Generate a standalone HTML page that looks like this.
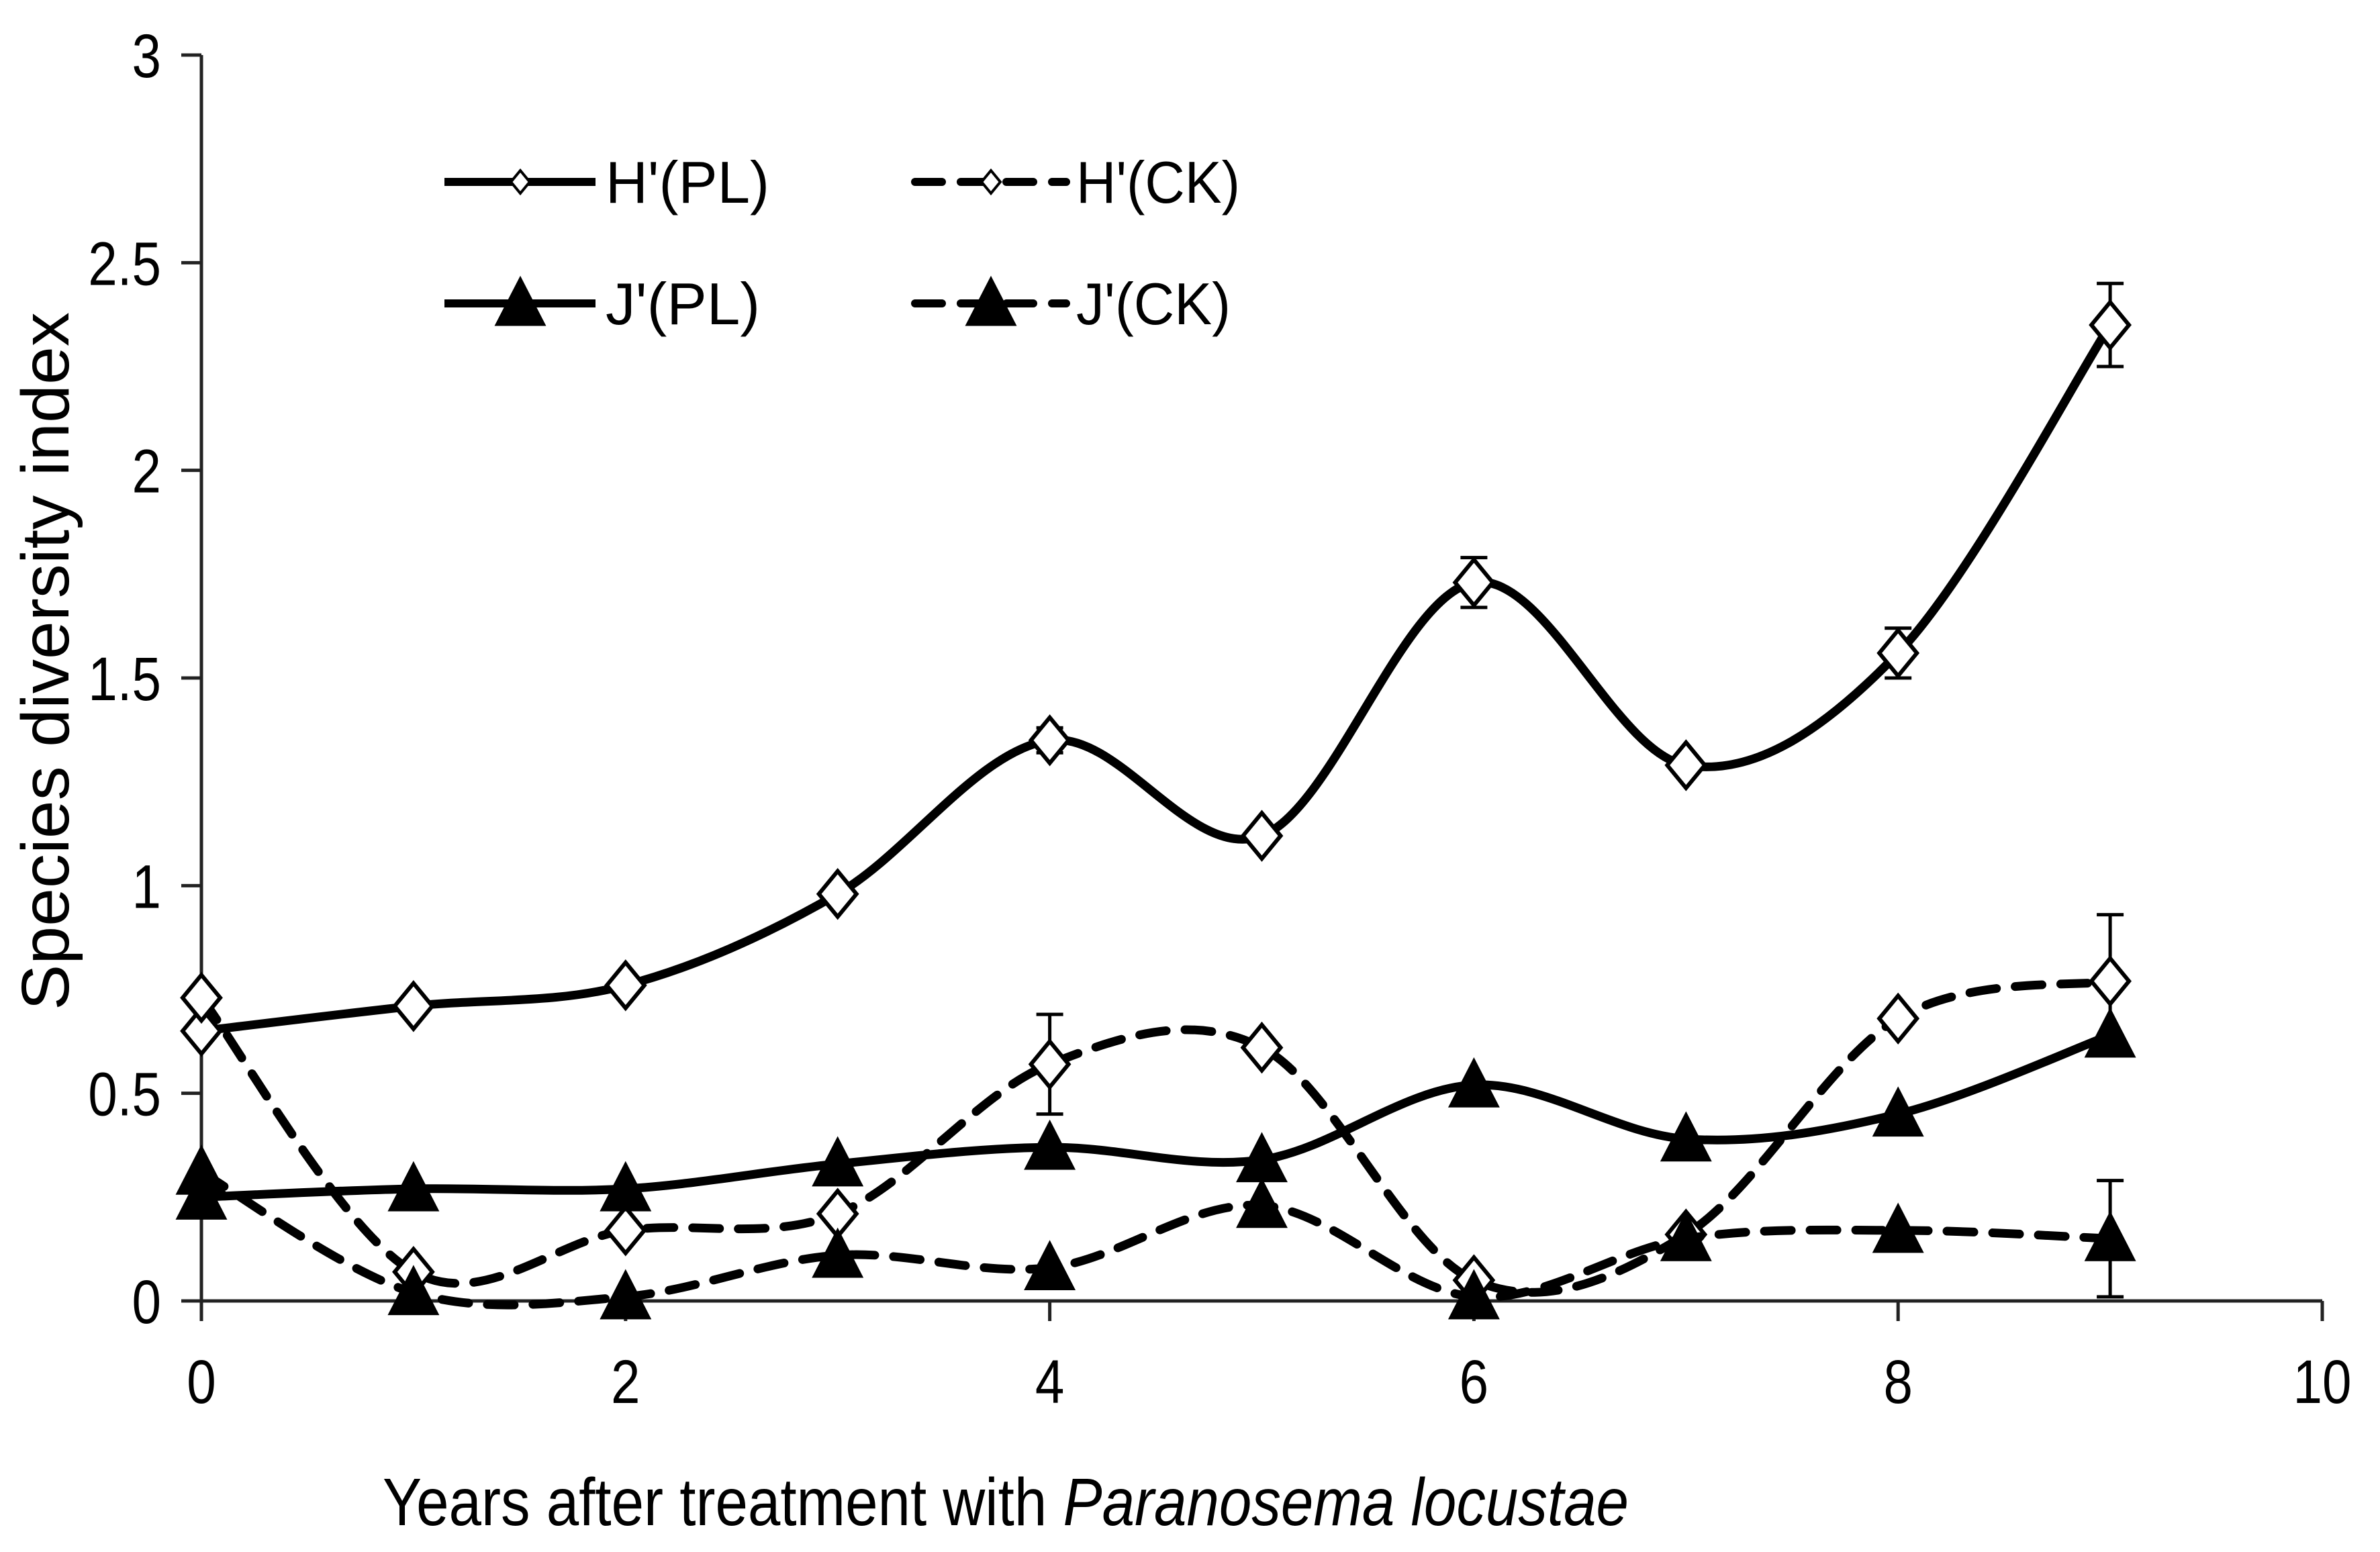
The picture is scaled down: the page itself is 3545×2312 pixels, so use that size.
<!DOCTYPE html>
<html><head><meta charset="utf-8"><style>
html,body{margin:0;padding:0;background:#fff;}
svg{display:block;font-family:"Liberation Sans",sans-serif;}
</style></head><body>
<svg id="chart" width="3545" height="2312" viewBox="0 0 3545 2312" xmlns="http://www.w3.org/2000/svg">
<rect width="3545" height="2312" fill="#fff"/>
<g id="axes"></g>
<g id="series"></g>
<g id="legend"></g>
<text transform="translate(102,985) rotate(-90)" text-anchor="middle" font-size="100" textLength="1040" lengthAdjust="spacingAndGlyphs">Species diversity index</text>
<text x="570" y="2272" font-size="100" textLength="1856" lengthAdjust="spacingAndGlyphs">Years after treatment with <tspan font-style="italic">Paranosema locustae</tspan></text>
</svg>
<script>
const years = [0,1,2,3,4,5,6,7,8,9];
const hPL = [0.65,0.71,0.76,0.98,1.35,1.12,1.73,1.29,1.56,2.35];
const hPLerr = [0,0,0,0,0.03,0,0.06,0,0.06,0.1];
const hCK = [0.73,0.07,0.17,0.21,0.57,0.61,0.05,0.16,0.68,0.77];
const hCKerr = [0,0,0,0,0.12,0,0,0,0,0.16];
const jPL = [0.25,0.27,0.27,0.33,0.37,0.34,0.52,0.39,0.45,0.64];
const jPLerr = [0,0,0,0,0,0,0,0,0,0];
const jCK = [0.31,0.02,0.01,0.11,0.08,0.23,0.01,0.15,0.17,0.15];
const jCKerr = [0,0,0,0,0,0,0,0,0,0.14];
const xTicks = [0,2,4,6,8,10];
const yTicks = [0,0.5,1,1.5,2,2.5,3];
const yTickLabels = ["0","0.5","1","1.5","2","2.5","3"];

const NS="http://www.w3.org/2000/svg";
const X0=300,X1=3459,Y0=1938,Y1=82;
function sx(v){return X0+(X1-X0)*v/10;}
function sy(v){return Y0-(Y0-Y1)*v/3;}
function mk(tag,attrs,parent){const e=document.createElementNS(NS,tag);for(const k in attrs)e.setAttribute(k,attrs[k]);parent.appendChild(e);return e;}

const axes=document.getElementById('axes');
let yl=mk('line',{x1:X0,y1:Y1,x2:X0,y2:Y0,stroke:'#222','stroke-width':5},axes);


let xl=mk('line',{x1:X0,y1:Y0,x2:X1,y2:Y0,stroke:'#222','stroke-width':5},axes);


yTicks.forEach((v,i)=>{
  let t=mk('line',{x1:X0-30,y1:sy(v),x2:X0,y2:sy(v),stroke:'#222','stroke-width':5},axes);
  
  
  let l=mk('text',{x:0,y:0,'font-size':92,'text-anchor':'end',transform:`translate(240,${sy(v)+33}) scale(0.85,1)`},axes);
  l.textContent=yTickLabels[i];
  
  
});
xTicks.forEach(v=>{
  let t=mk('line',{x1:sx(v),y1:Y0,x2:sx(v),y2:Y0+30,stroke:'#222','stroke-width':5},axes);
  
  
  let l=mk('text',{x:0,y:0,'font-size':92,'text-anchor':'middle',transform:`translate(${sx(v)},2090) scale(0.85,1)`},axes);
  l.textContent=String(v);
  
  
});

function smoothPath(vals){
  const p=vals.map((v,i)=>[sx(years[i]),sy(v)]);
  let d='M'+p[0][0]+','+p[0][1];
  for(let i=0;i<p.length-1;i++){
    const a=p[i-1]||p[i],b=p[i],c=p[i+1],e=p[i+2]||c;
    const c1=[b[0]+(c[0]-a[0])/6,b[1]+(c[1]-a[1])/6];
    const c2=[c[0]-(e[0]-b[0])/6,c[1]-(e[1]-b[1])/6];
    d+=' C'+c1.join(',')+' '+c2.join(',')+' '+c.join(',');
  }
  return d;
}
function diamond(g,x,y){const p=mk('path',{d:`M${x},${y-34} L${x+28},${y} L${x},${y+34} L${x-28},${y} Z`,fill:'#fff',stroke:'#000','stroke-width':6},g);return p;}
function tri(g,x,y){const p=mk('path',{d:`M${x},${y-38} L${x+36},${y+32} L${x-36},${y+32} Z`,fill:'#000',stroke:'#000','stroke-width':3},g);return p;}

const series=document.getElementById('series');
const defs=[
  {name:'h-pl',vals:hPL,err:hPLerr,dash:null,marker:'d'},
  {name:'h-ck',vals:hCK,err:hCKerr,dash:'40 28',marker:'d'},
  {name:'j-pl',vals:jPL,err:jPLerr,dash:null,marker:'t'},
  {name:'j-ck',vals:jCK,err:jCKerr,dash:'40 28',marker:'t'}
];
defs.forEach(s=>{
  const g=mk('g',{},series);
  
  
  const attrs={d:smoothPath(s.vals),fill:'none',stroke:'#000','stroke-width':13,'stroke-linecap':s.dash?'round':'butt'};
  if(s.dash)attrs['stroke-dasharray']=s.dash;
  const ln=mk('path',attrs,g);
  
  
  s.vals.forEach((v,i)=>{
    const x=sx(years[i]);
    if(s.err[i]>0){
      const e=mk('path',{d:`M${x},${sy(v+s.err[i])} L${x},${sy(v-s.err[i])} M${x-20},${sy(v+s.err[i])} L${x+20},${sy(v+s.err[i])} M${x-20},${sy(v-s.err[i])} L${x+20},${sy(v-s.err[i])}`,stroke:'#000','stroke-width':5,fill:'none'},g);
      
      
    }
  });
  s.vals.forEach((v,i)=>{
    const x=sx(years[i]),y=sy(v);
    const m=s.marker==='d'?diamond(g,x,y):tri(g,x,y);
    
    
  });
});

const legend=document.getElementById('legend');
const legItems=[
  {label:"H'(PL)",x:662,y:271,dash:null,marker:'d',tw:244},
  {label:"H'(CK)",x:1363,y:271,dash:'40 28',marker:'d',tw:244},
  {label:"J'(PL)",x:662,y:452,dash:null,marker:'t',tw:230},
  {label:"J'(CK)",x:1363,y:452,dash:'40 28',marker:'t',tw:230}
];
legItems.forEach(it=>{
  const g=mk('g',{},legend);
  
  
  const a={x1:it.x,y1:it.y,x2:it.x+225,y2:it.y,stroke:'#000','stroke-width':12,'stroke-linecap':it.dash?'round':'butt'};
  if(it.dash)a['stroke-dasharray']=it.dash;
  mk('line',a,g);
  const cx=it.x+113;
  if(it.marker==='d'){mk('path',{d:`M${cx},${it.y-17} L${cx+14},${it.y} L${cx},${it.y+17} L${cx-14},${it.y} Z`,fill:'#fff',stroke:'#000','stroke-width':4},g);}
  else tri(g,cx,it.y);
  const t=mk('text',{x:it.x+240,y:it.y+31,'font-size':88,textLength:it.tw,lengthAdjust:'spacingAndGlyphs'},g);
  t.textContent=it.label;
  
  
});
</script>
</body></html>
